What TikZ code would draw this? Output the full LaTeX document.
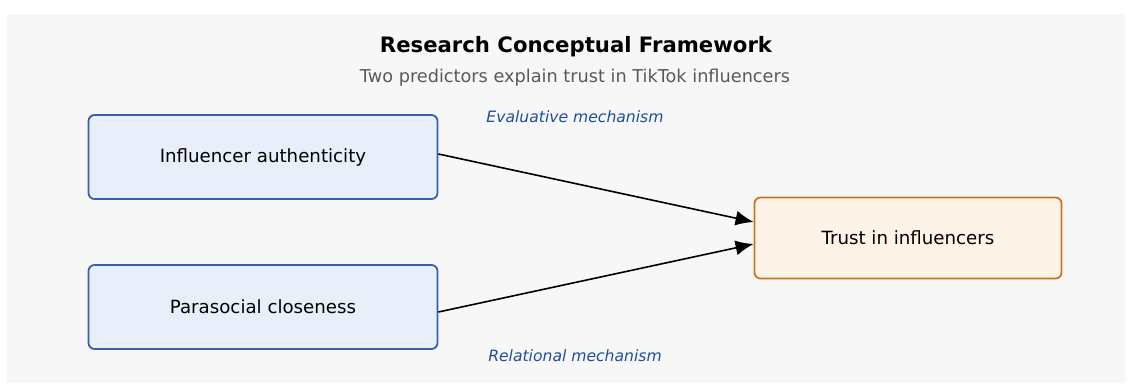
\documentclass[tikz,border=0pt]{standalone}
\usepackage{fontspec}
\setmainfont{DejaVu Sans}
\usetikzlibrary{arrows.meta}
\definecolor{panelgray}{HTML}{F7F7F7}
\definecolor{predline}{HTML}{3461AB}
\definecolor{predfill}{HTML}{E9EFFA}
\definecolor{outline}{HTML}{C8761C}
\definecolor{outfill}{HTML}{FEF3E7}
\definecolor{mechblue}{HTML}{1F4E9C}
\definecolor{subgray}{HTML}{595959}
\begin{document}
\begin{tikzpicture}[x=1pt, y=-1pt,
	predictor/.style={draw=predline, fill=predfill, line width=1.8pt, rounded corners=6pt, minimum width=349pt, minimum height=84pt, font=\fontsize{18.2}{21}\selectfont},
	outcome/.style={draw=outline, fill=outfill, line width=1.8pt, rounded corners=6pt, minimum width=307pt, minimum height=81pt, font=\fontsize{18.2}{21}\selectfont},
	mech/.style={text=mechblue, font=\fontsize{15.6}{18}\selectfont\itshape},
	link/.style={line width=1.6pt, -{Latex[length=18pt, width=15pt]}}]
%		\draw[help lines] (0,0) grid (1130,383);
		\useasboundingbox (0,0) rectangle (1130,383);
		\fill[panelgray] (7,14) rectangle (1125,383);
		\node[font=\fontsize{21.2}{25}\selectfont\bfseries] (title) at (576,47) {Research Conceptual Framework};
		\node[font=\fontsize{17.7}{21}\selectfont, text=subgray] (sub) at (575,78) {Two predictors explain trust in TikTok influencers};
		\node[predictor] (auth) at (263,157) {Influencer authenticity};
		\node[predictor] (para) at (263,307) {Parasocial closeness};
		\node[outcome] (trust) at (908,238) {Trust in influencers};
		\node[mech] (eval) at (575,117) {Evaluative mechanism};
		\node[mech] (rel) at (575,356) {Relational mechanism};
		\draw[link] ([yshift=3pt]auth.east) -- ([yshift=16pt]trust.west);
		\draw[link] ([yshift=-5pt]para.east) -- ([yshift=-6pt]trust.west);
	\end{tikzpicture}
\end{document}
